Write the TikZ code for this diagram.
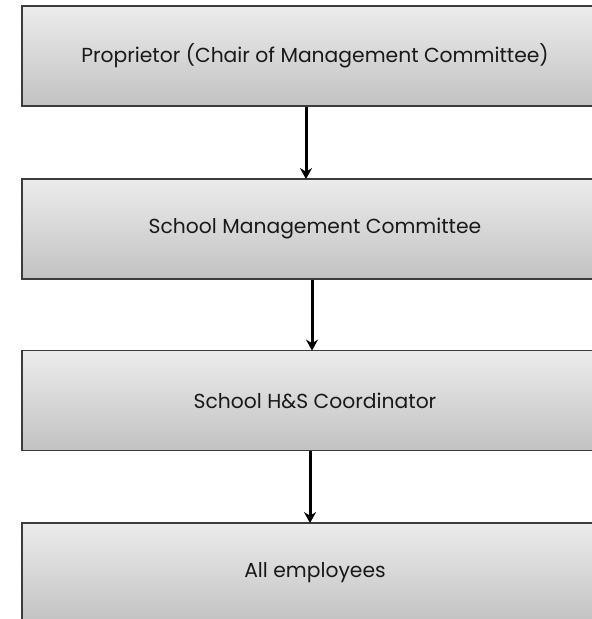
\documentclass[tikz,border=0pt]{standalone}
\usepackage{fontspec}
\setmainfont{Poppins}
\usetikzlibrary{arrows.meta}
\definecolor{topg}{RGB}{236,236,236}
\definecolor{botg}{RGB}{194,194,194}
\definecolor{edge}{RGB}{60,60,60}
\definecolor{txt}{RGB}{25,25,25}
\tikzset{
  box/.style={rectangle, draw=edge, line width=1.8pt, top color=topg, bottom color=botg,
    minimum width=586pt, minimum height=100pt, inner sep=0pt,
    font=\fontsize{20.3}{24}\selectfont, text=txt},
  arr/.style={draw=black, line width=3pt, -{Stealth[length=11pt,width=12pt]}, shorten >=-1pt}
}
\begin{document}
\begin{tikzpicture}[x=1pt,y=-1pt]
\useasboundingbox (0,0) rectangle (592,619);
\clip (0,0) rectangle (592,619);
\node[box] (b1) at (315,56) {Proprietor (Chair of Management Committee)};
\node[box] (b2) at (315,229) {School Management Committee};
\node[box] (b3) at (315,400.5) {School H\&S Coordinator};
\node[box] (b4) at (315,573) {All employees};
\draw[arr] ([xshift=-9pt]b1.south) -- ([xshift=-9pt]b2.north);
\draw[arr] ([xshift=-3pt]b2.south) -- ([xshift=-3pt]b3.north);
\draw[arr] ([xshift=-5pt]b3.south) -- ([xshift=-5pt]b4.north);
\end{tikzpicture}
\end{document}
